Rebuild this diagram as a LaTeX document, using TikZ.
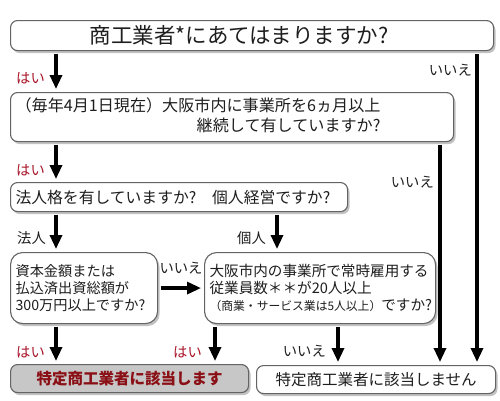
\documentclass[tikz,border=0pt]{standalone}
\usepackage{fontspec}
\setmainfont{Noto Sans CJK JP}
\usetikzlibrary{arrows.meta,shadows}
\definecolor{haicol}{RGB}{168,20,40}
\definecolor{yescol}{RGB}{138,16,22}
\definecolor{edgecol}{RGB}{100,100,100}
\definecolor{txtcol}{RGB}{30,30,30}

\begin{document}
\begin{tikzpicture}[x=1pt,y=-1pt,
  text=txtcol,
  box/.style={draw=edgecol,line width=1.1pt,fill=white,rounded corners=7pt,
    anchor=north west,inner xsep=5pt,inner ysep=0pt,
    drop shadow={shadow xshift=2pt,shadow yshift=-2.5pt,fill=black!60,opacity=.4}},
  qbox/.style={box,rounded corners=12pt},
  lbl/.style={inner sep=0pt,font=\fontsize{14.3}{15}\selectfont},
  hai/.style={lbl,text=haicol},
  arr/.style={line width=3.2pt,-{Triangle[width=12pt,length=14pt]},
    shorten <=2.5pt,shorten >=3pt}]
\useasboundingbox (0,0) rectangle (500,400);

% columns of the arrows
\coordinate (colL) at (56,0);
\coordinate (colM) at (215,0);
\coordinate (colP) at (277,0);
\coordinate (colN) at (338,0);
\coordinate (colR1) at (440,0);
\coordinate (colR2) at (477,0);

% questions
\node[box,minimum width=483pt,minimum height=30pt,font=\fontsize{21.5}{23}\selectfont]
  (q1) at (10,20) {商工業者*にあてはまりますか?\hspace*{26pt}};
\node[box,minimum height=49pt,text width=433pt,align=left,font=\fontsize{16.1}{20}\selectfont]
  (q2) at (10,92) {\begin{tabular}{@{}r@{}}（毎年4月1日現在）大阪市内に事業所を6ヵ月以上\\継続して有していますか?\end{tabular}};
\node[box,minimum height=29pt,text width=327pt,align=left,font=\fontsize{15.8}{18}\selectfont]
  (q3) at (10,182) {法人格を有していますか?　個人経営ですか?};
\node[qbox,minimum height=71pt,text width=137pt,align=left,font=\fontsize{14.2}{17}\selectfont]
  (q4) at (10,252) {資本金額または\\払込済出資総額が\\300万円以上ですか?};
\node[qbox,minimum height=71pt,text width=221pt,align=left,font=\fontsize{14.6}{17}\selectfont]
  (q5) at (204,252) {大阪市内の事業所で常時雇用する\\従業員数＊＊が20人以上\\{\fontsize{11.8}{17}\selectfont （商業・サービス業は5人以上）}ですか?};

% answers
\node[box,fill=black!22,minimum width=238pt,minimum height=28pt,
  font=\fontsize{15.5}{16}\selectfont\bfseries,text=yescol]
  (yes) at (10,364) {特定商工業者に該当します};
\node[box,minimum width=239pt,minimum height=28pt,font=\fontsize{15.5}{16}\selectfont]
  (no) at (256,365) {特定商工業者に該当しません};

% connectors
\draw[arr] (q1.south -| colL) -- (q2.north -| colL);
\draw[arr] (q2.south -| colL) -- (q3.north -| colL);
\draw[arr] (q3.south -| colL) -- (q4.north -| colL);
\draw[arr] (q3.south -| colP) -- (q5.north -| colP);
\draw[arr] (q4.east) -- (q5.west);
\draw[arr] (q4.south -| colL) -- (yes.north -| colL);
\draw[arr] (q5.south -| colM) -- (yes.north -| colM);
\draw[arr] (q5.south -| colN) -- (no.north -| colN);
\draw[arr] (q2.south -| colR1) -- (no.north -| colR1);
\draw[arr] (q1.south -| colR2) -- (no.north -| colR2);

% labels
\node[hai,anchor=east] (hai1) at (45,78) {はい};
\node[hai,anchor=east] (hai2) at (45,170) {はい};
\node[lbl,anchor=east] (iie1) at (472,70) {いいえ};
\node[lbl,anchor=east] (iie2) at (434,182) {いいえ};
\node[lbl,anchor=east] (hojin) at (46,238) {法人};
\node[lbl,anchor=east] (kojin) at (266,238) {個人};
\node[lbl] (iie3) at (181,268) {いいえ};
\node[hai,anchor=east] (hai3) at (45,352) {はい};
\node[hai,anchor=east] (hai4) at (202,352) {はい};
\node[lbl,anchor=east] (iie4) at (326,351) {いいえ};
\end{tikzpicture}
\end{document}
